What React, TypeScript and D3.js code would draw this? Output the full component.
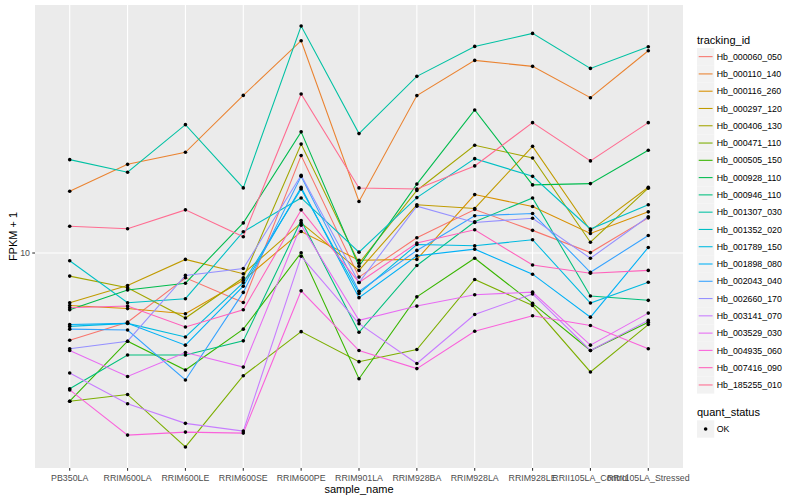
import React from 'react';
import * as d3 from 'd3';

// samples on the x axis
const samples = [
  'PB350LA', 'RRIM600LA', 'RRIM600LE', 'RRIM600SE', 'RRIM600PE', 'RRIM901LA',
  'RRIM928BA', 'RRIM928LA', 'RRIM928LE', 'RRII105LA_Control', 'RRII105LA_Stressed',
];

const trackingIds = [
  'Hb_000060_050', 'Hb_000110_140', 'Hb_000116_260', 'Hb_000297_120', 'Hb_000406_130',
  'Hb_000471_110', 'Hb_000505_150', 'Hb_000928_110', 'Hb_000946_110', 'Hb_001307_030',
  'Hb_001352_020', 'Hb_001789_150', 'Hb_001898_080', 'Hb_002043_040', 'Hb_002660_170',
  'Hb_003141_070', 'Hb_003529_030', 'Hb_004935_060', 'Hb_007416_090', 'Hb_185255_010',
];

// ggplot default hue palette, 20 levels
const hueColors = [
  '#F8766D', '#EA8331', '#D89000', '#C09B00', '#A3A500', '#7CAE00', '#39B600', '#00BB4E',
  '#00BF7D', '#00C1A3', '#00BFC4', '#00BAE0', '#00B0F6', '#35A2FF', '#9590FF', '#C77CFF',
  '#E76BF3', '#FA62DB', '#FF62BC', '#FF6C91',
];

// FPKM + 1, one value per sample
const hb000060_050 = [6.69, 7.27, 8.92, 7.96, 15.67, 8.95, 10.73, 12.22, 11.1, 10.02, 11.76];
const hb000110_140 = [13.29, 15.05, 15.91, 20.68, 26.61, 12.68, 20.66, 24.3, 23.64, 20.46, 25.41];
const hb000116_260 = [7.85, 7.74, 7.56, 8.82, 11.04, 9.67, 9.71, 13.09, 12.39, 10.94, 12.09];
const hb000297_120 = [7.95, 8.61, 9.71, 9.09, 11.49, 9.23, 12.49, 12.28, 16.35, 11.09, 13.54];
const hb000406_130 = [8.99, 8.52, 7.41, 8.92, 16.52, 9.54, 13.34, 16.43, 15.5, 10.51, 13.48];
const hb000471_110 = [5.05, 5.21, 4.09, 5.68, 6.96, 6.06, 6.41, 8.85, 7.85, 5.78, 7.19];
const hb000505_150 = [5.05, 6.66, 5.83, 7.04, 10.01, 5.6, 8.17, 9.76, 7.93, 6.38, 7.27];
const hb000928_110 = [7.7, 8.43, 8.7, 11.49, 17.48, 9.41, 13.74, 19.34, 13.69, 13.77, 16.06];
const hb000946_110 = [5.35, 6.25, 6.25, 6.67, 11.62, 6.94, 9.44, 11.55, 12.89, 8.2, 8.04];
const hb001307_030 = [15.38, 14.51, 18.07, 13.5, 28.47, 17.34, 22.58, 25.92, 27.52, 23.42, 25.88];
const hb001352_020 = [9.65, 7.95, 8.1, 11.03, 12.89, 10.04, 12.91, 15.45, 14.24, 11.17, 12.49];
const hb001789_150 = [7.13, 7.23, 6.79, 8.72, 13.44, 8.3, 10.4, 10.34, 10.63, 7.94, 8.74];
const hb001898_080 = [7.19, 7.23, 6.54, 8.58, 13.54, 8.14, 9.87, 10.18, 9.07, 7.44, 10.26];
const hb002043_040 = [7.04, 7.01, 5.57, 8.34, 14.24, 8.38, 10.12, 11.87, 12.0, 9.15, 10.84];
const hb002660_170 = [6.43, 6.66, 9.02, 9.31, 14.31, 8.73, 12.41, 11.51, 11.74, 9.76, 11.82];
const hb003141_070 = [5.75, 4.99, 4.56, 4.4, 9.85, 7.22, 6.01, 7.53, 8.28, 6.38, 7.33];
const hb003529_030 = [6.38, 5.66, 6.32, 5.91, 11.37, 7.33, 7.83, 8.25, 8.35, 6.54, 7.58];
const hb004935_060 = [5.32, 4.32, 4.38, 4.36, 8.4, 6.38, 5.87, 6.97, 7.49, 7.16, 6.43];
const hb007416_090 = [7.77, 7.83, 7.11, 7.7, 12.2, 8.73, 10.47, 11.13, 9.46, 9.11, 9.23];
const hb185255_010 = [11.31, 11.18, 12.2, 10.78, 20.82, 13.5, 13.43, 14.94, 18.24, 15.29, 18.24];

const seriesValues = [
  hb000060_050, hb000110_140, hb000116_260, hb000297_120, hb000406_130,
  hb000471_110, hb000505_150, hb000928_110, hb000946_110, hb001307_030,
  hb001352_020, hb001789_150, hb001898_080, hb002043_040, hb002660_170,
  hb003141_070, hb003529_030, hb004935_060, hb007416_090, hb185255_010,
];

const yTicks = [10];

const W = 800;
const H = 500;
const panel = { left: 35, right: 683, top: 5, bottom: 468 };
const font = '"Liberation Sans", Arial, Helvetica, sans-serif';

const App: React.FC = () => {
  const x = d3
    .scalePoint<string>()
    .domain(samples)
    .range([panel.left, panel.right])
    .padding(0.6);

  // log scale with ggplot-style 5% expansion
  const all = seriesValues.flat();
  const lo = Math.log10(d3.min(all) as number);
  const hi = Math.log10(d3.max(all) as number);
  const pad = (hi - lo) * 0.05;
  const y = d3
    .scaleLog()
    .domain([Math.pow(10, lo - pad), Math.pow(10, hi + pad)])
    .range([panel.bottom, panel.top]);

  const line = d3
    .line<number>()
    .x((_, i) => x(samples[i]) as number)
    .y((d) => y(d));

  const keyH = 17.28;
  const legendX = 697;
  const firstKeyY = 48;
  const ptR = 1.8;

  return (
    <svg
      width={W}
      height={H}
      style={{ position: 'absolute', left: 0, top: 0, background: '#fff' }}
      fontFamily={font}
    >
      <rect x={panel.left} y={panel.top} width={panel.right - panel.left} height={panel.bottom - panel.top} fill="#EBEBEB" />
      {yTicks.map((t) => (
        <line key={t} x1={panel.left} x2={panel.right} y1={y(t)} y2={y(t)} stroke="#fff" strokeWidth={1.07} />
      ))}
      {samples.map((s) => (
        <line key={s} x1={x(s)} x2={x(s)} y1={panel.top} y2={panel.bottom} stroke="#fff" strokeWidth={1.07} />
      ))}

      {seriesValues.map((vals, i) => (
        <path key={trackingIds[i]} d={line(vals) || ''} fill="none" stroke={hueColors[i]} strokeWidth={1.07} />
      ))}
      {seriesValues.map((vals, i) =>
        vals.map((v, j) => (
          <circle key={`${i}-${j}`} cx={x(samples[j])} cy={y(v)} r={ptR} fill="#000" />
        ))
      )}

      {/* x axis */}
      {samples.map((s) => (
        <g key={s}>
          <line x1={x(s)} x2={x(s)} y1={panel.bottom} y2={panel.bottom + 2.75} stroke="#333" strokeWidth={1.07} />
          <text x={x(s)} y={panel.bottom + 13} textAnchor="middle" fontSize={8.8} fill="#4D4D4D">
            {s}
          </text>
        </g>
      ))}
      <text x={(panel.left + panel.right) / 2} y={493} textAnchor="middle" fontSize={11} fill="#000">
        sample_name
      </text>

      {/* y axis */}
      {yTicks.map((t) => (
        <g key={t}>
          <line x1={panel.left - 2.75} x2={panel.left} y1={y(t)} y2={y(t)} stroke="#333" strokeWidth={1.07} />
          <text x={panel.left - 5} y={y(t) + 3.1} textAnchor="end" fontSize={8.8} fill="#4D4D4D">
            {t}
          </text>
        </g>
      ))}
      <text
        transform={`translate(16.5,${(panel.top + panel.bottom) / 2}) rotate(-90)`}
        textAnchor="middle"
        fontSize={11}
        fill="#000"
      >
        FPKM + 1
      </text>

      {/* legend: tracking_id */}
      <text x={legendX} y={44} fontSize={11} fill="#000">
        tracking_id
      </text>
      {trackingIds.map((id, i) => {
        const cy = firstKeyY + keyH * i + keyH / 2;
        return (
          <g key={id}>
            <rect x={legendX} y={cy - keyH / 2} width={keyH} height={keyH} fill="#F2F2F2" />
            <line x1={legendX + 1.7} x2={legendX + keyH - 1.7} y1={cy} y2={cy} stroke={hueColors[i]} strokeWidth={1.07} />
            <text x={legendX + keyH + 2.5} y={cy + 3.1} fontSize={8.8} fill="#000">
              {id}
            </text>
          </g>
        );
      })}

      {/* legend: quant_status */}
      <text x={legendX} y={416} fontSize={11} fill="#000">
        quant_status
      </text>
      <rect x={legendX} y={429 - keyH / 2} width={keyH} height={keyH} fill="#F2F2F2" />
      <circle cx={legendX + keyH / 2} cy={429} r={ptR} fill="#000" />
      <text x={legendX + keyH + 2.5} y={432.1} fontSize={8.8} fill="#000">
        OK
      </text>
    </svg>
  );
};

export default App;
